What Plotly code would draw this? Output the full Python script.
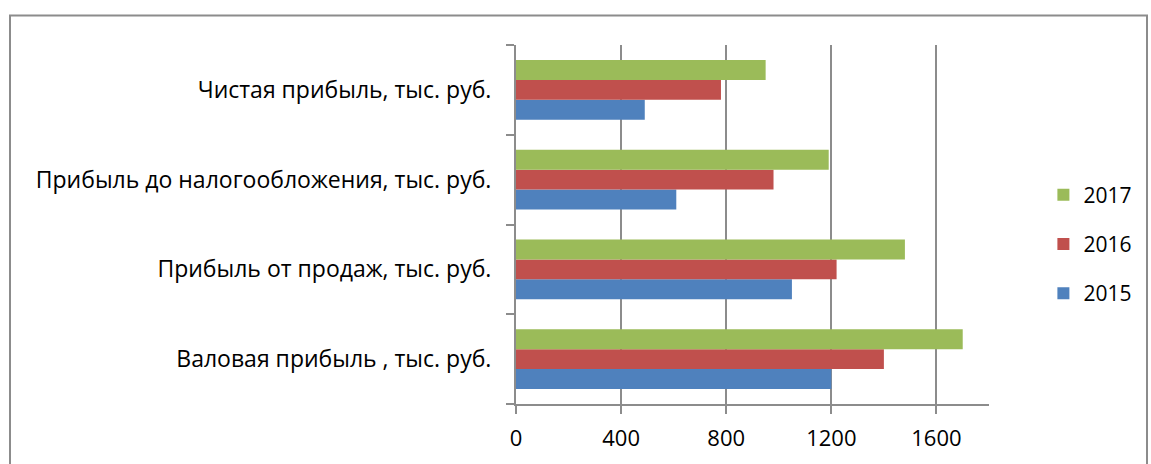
import plotly.graph_objects as go

categories = [
    "Валовая прибыль , тыс. руб.",
    "Прибыль от продаж, тыс. руб.",
    "Прибыль до налогообложения, тыс. руб.",
    "Чистая прибыль, тыс. руб.",
]
years = ["2015", "2016", "2017"]
values_2015 = [1200, 1050, 610, 490]
values_2016 = [1400, 1220, 980, 780]
values_2017 = [1700, 1480, 1190, 950]
colors = ["#4F81BD", "#C0504D", "#9BBB59"]
legend_ranks = [3, 2, 1]
x_ticks = [0, 400, 800, 1200, 1600]

FONT = "Open Sans"
fig = go.Figure()
for name, vals, col, rank in zip(years, [values_2015, values_2016, values_2017], colors, legend_ranks):
    fig.add_trace(go.Bar(
        y=categories, x=vals, name=name, orientation="h",
        marker=dict(color=col, line=dict(width=0)),
        legendgroup=name, legendrank=rank,
    ))

fig.update_layout(
    width=1151, height=464,
    margin=dict(l=516, r=162, t=45, b=60),
    paper_bgcolor="white", plot_bgcolor="white",
    barmode="group", bargap=1/3, bargroupgap=0,
    font=dict(family=FONT, size=21, color="#000000"),
    legend=dict(
        traceorder="grouped", tracegroupgap=19,
        x=1.115, xanchor="left", y=(404 - 244) / 359, yanchor="middle",
        font=dict(size=21), itemwidth=30,
    ),
    xaxis=dict(
        range=[0, 1800], tickvals=x_ticks, ticktext=[str(v) for v in x_ticks],
        showgrid=True, gridcolor="#8C8C8C", gridwidth=2,
        showline=True, linecolor="#8C8C8C", linewidth=2,
        ticks="outside", ticklen=8, tickcolor="#8C8C8C", tickwidth=2,
        tickfont=dict(size=22), zeroline=False, ticklabelstandoff=6,
    ),
    yaxis=dict(
        type="category", categoryorder="array", categoryarray=categories,
        showline=True, linecolor="#8C8C8C", linewidth=2,
        ticks="outside", ticklen=8, tickcolor="#8C8C8C", tickwidth=2,
        tickson="boundaries", showgrid=False,
        ticklabelstandoff=18, tickfont=dict(size=23),
    ),
    shapes=[dict(
        type="rect", xref="paper", yref="paper",
        x0=(10 - 516) / 473, x1=(1147 - 516) / 473,
        y0=-0.3, y1=(404 - 15.5) / 359,
        line=dict(color="#8C8C8C", width=2), fillcolor="rgba(0,0,0,0)",
        layer="below",
    )],
)

fig.write_html("out.html")
